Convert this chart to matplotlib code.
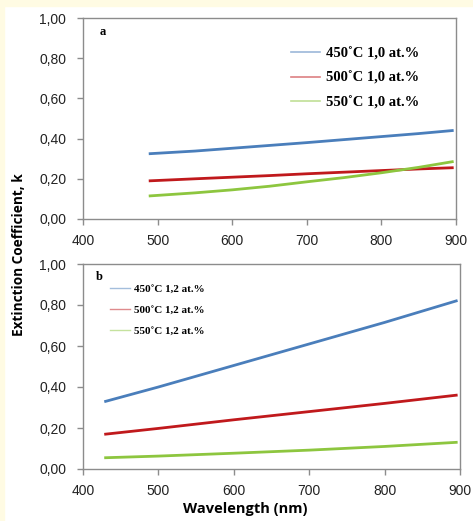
import matplotlib

matplotlib.use("Agg")
import matplotlib.pyplot as plt
from matplotlib.patches import Rectangle

# Dados (comprimento de onda em nm, coeficiente k)
wl_a = [490, 550, 600, 650, 700, 750, 800, 850, 895]
k_a_450 = [0.325, 0.338, 0.352, 0.366, 0.380, 0.395, 0.410, 0.425, 0.440]
k_a_500 = [0.190, 0.200, 0.208, 0.216, 0.225, 0.233, 0.241, 0.249, 0.255]
k_a_550 = [0.115, 0.130, 0.145, 0.163, 0.185, 0.206, 0.230, 0.257, 0.285]

wl_b = [430, 500, 600, 700, 800, 895]
k_b_450 = [0.330, 0.400, 0.505, 0.610, 0.715, 0.820]
k_b_500 = [0.170, 0.198, 0.240, 0.280, 0.320, 0.360]
k_b_550 = [0.055, 0.063, 0.077, 0.092, 0.110, 0.130]

labels_a = ["450˚C 1,0 at.%", "500˚C 1,0 at.%", "550˚C 1,0 at.%"]
labels_b = ["450˚C 1,2 at.%", "500˚C 1,2 at.%", "550˚C 1,2 at.%"]
colors = ["#4a7ebb", "#c0191c", "#8dc63f"]

yticks = [0.0, 0.2, 0.4, 0.6, 0.8, 1.0]
ytick_labels = ["0,00", "0,20", "0,40", "0,60", "0,80", "1,00"]
xticks = [400, 500, 600, 700, 800, 900]

fig = plt.figure(figsize=(4.73, 5.21), dpi=100)
fig.patch.set_facecolor("white")
# faixa creme nas bordas superior e esquerda
fig.patches.append(Rectangle((0, 1 - 6 / 521), 1, 6 / 521, transform=fig.transFigure,
                             color="#fffbe3", zorder=0))
fig.patches.append(Rectangle((0, 0), 4 / 473, 1, transform=fig.transFigure,
                             color="#fffbe3", zorder=0))

ax_a = fig.add_axes([83 / 473, 302 / 521, 373 / 473, 201 / 521])
ax_b = fig.add_axes([83 / 473, 52 / 521, 377 / 473, 205 / 521])


def style_axes(ax):
    ax.set_xlim(400, 900)
    ax.set_ylim(0, 1)
    ax.set_xticks(xticks)
    ax.set_xticklabels([str(x) for x in xticks], fontsize=10, family="Liberation Sans",
                       color="#222222")
    ax.set_yticks(yticks)
    ax.set_yticklabels(ytick_labels, fontsize=10, family="Liberation Sans", color="#222222")
    for s in ax.spines.values():
        s.set_color("#8c8c8c")
        s.set_linewidth(1.0)
    ax.tick_params(direction="out", length=4, color="#8c8c8c", width=1.0)
    ax.tick_params(axis="x", pad=7)
    ax.tick_params(axis="y", pad=8)


# Painel a
for k, lab, c in zip([k_a_450, k_a_500, k_a_550], labels_a, colors):
    ax_a.plot(wl_a, k, color=c, linewidth=2, label=lab)
style_axes(ax_a)
ax_a.text(0.045, 0.93, "a", transform=ax_a.transAxes, fontsize=9, fontweight="bold",
          family="Liberation Serif", va="center")
leg_a = ax_a.legend(loc="upper left", bbox_to_anchor=(0.522, 0.92), frameon=False,
                    prop={"family": "Liberation Serif", "weight": "bold", "size": 10.5},
                    handlelength=2.0, handletextpad=0.4, labelspacing=0.75)
for h in leg_a.get_lines():
    h.set_linewidth(1.2)
    h.set_alpha(0.55)

# Painel b
for k, lab, c in zip([k_b_450, k_b_500, k_b_550], labels_b, colors):
    ax_b.plot(wl_b, k, color=c, linewidth=2, label=lab)
style_axes(ax_b)
ax_b.text(0.035, 0.935, "b", transform=ax_b.transAxes, fontsize=9, fontweight="bold",
          family="Liberation Serif", va="center")
leg_b = ax_b.legend(loc="upper left", bbox_to_anchor=(0.046, 0.95), frameon=False,
                    prop={"family": "Liberation Serif", "weight": "bold", "size": 8},
                    handlelength=1.8, handletextpad=0.3, labelspacing=1.02)
for h in leg_b.get_lines():
    h.set_linewidth(1.0)
    h.set_alpha(0.5)

fig.text(245 / 473, 1 - 509 / 521, "Wavelength (nm)", ha="center", va="center",
         fontsize=10.5, fontweight="bold", family="Open Sans")
fig.text(0.040, 0.511, "Extinction Coefficient, k", rotation=90, ha="center", va="center",
         fontsize=9.8, fontweight="bold", family="Open Sans")

plt.savefig("out.png", dpi=100)
plt.close()
